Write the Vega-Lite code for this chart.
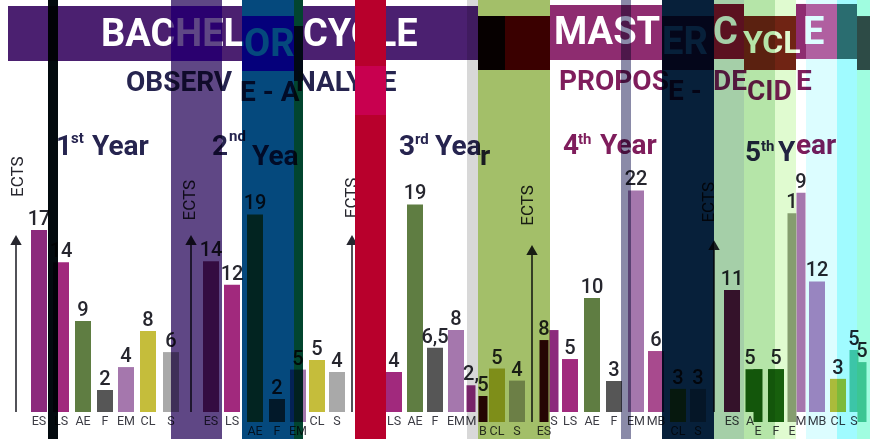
{
"$schema":"https://vega.github.io/schema/vega-lite/v6.json",
"autosize":{"type":"none"},
"width":870,"height":439,"padding":0,
"background":"white",
"config":{"view":{"stroke":null}},
"datasets":{
"blocks":[
{"slot":0.4,"to":8.55,"level":37.94,"bottom":32.8,"tone":"bachelor"},
{"slot":8.55,"to":11.1,"level":37.94,"bottom":32.8,"tone":"h2"},
{"slot":11.1,"to":12.1,"level":37.94,"bottom":32.8,"tone":"bachelor"},
{"slot":12.1,"to":14.7,"level":37.0,"bottom":31.87,"tone":"h3"},
{"slot":14.7,"to":15.15,"level":36.07,"bottom":30.93,"tone":"bachelor"},
{"slot":15.15,"to":23.9,"level":37.94,"bottom":32.9,"tone":"bachelor"},
{"slot":23.9,"to":25.25,"level":37.0,"bottom":31.96,"tone":"h6a"},
{"slot":25.25,"to":27.5,"level":37.0,"bottom":31.96,"tone":"h6b"},
{"slot":27.5,"to":33.1,"level":38.04,"bottom":32.9,"tone":"master"},
{"slot":33.1,"to":35.7,"level":37.0,"bottom":31.96,"tone":"master"},
{"slot":35.7,"to":37.2,"level":38.13,"bottom":32.99,"tone":"h9"},
{"slot":37.2,"to":39.8,"level":37.0,"bottom":31.96,"tone":"h10"},
{"slot":39.8,"to":40.3,"level":38.13,"bottom":32.99,"tone":"master"},
{"slot":40.3,"to":41.85,"level":38.13,"bottom":32.99,"tone":"h12"},
{"slot":41.85,"to":42.85,"level":38.13,"bottom":32.99,"tone":"h13"},
{"slot":42.85,"to":43.5,"level":37.0,"bottom":31.96,"tone":"h14"}
],
"bars":[
{"year":1,"tick":"ES","ects":"17","level":17.0,"slot":1.95,"shifted":false,"half":false,"tone":"ES"},
{"year":1,"tick":"LS","ects":"14","level":14.0,"slot":3.05,"shifted":false,"half":false,"tone":"LS"},
{"year":1,"tick":"AE","ects":"9","level":8.5,"slot":4.15,"shifted":false,"half":false,"tone":"AE"},
{"year":1,"tick":"F","ects":"2","level":2.06,"slot":5.25,"shifted":false,"half":false,"tone":"F"},
{"year":1,"tick":"EM","ects":"4","level":4.2,"slot":6.3,"shifted":false,"half":false,"tone":"EM"},
{"year":1,"tick":"CL","ects":"8","level":7.57,"slot":7.4,"shifted":false,"half":false,"tone":"CL"},
{"year":1,"tick":"S","ects":"6","level":5.6,"slot":8.55,"shifted":false,"half":false,"tone":"S"},
{"year":2,"tick":"ES","ects":"14","level":14.1,"slot":10.55,"shifted":false,"half":false,"tone":"ES"},
{"year":2,"tick":"LS","ects":"12","level":11.9,"slot":11.6,"shifted":false,"half":false,"tone":"LS"},
{"year":2,"tick":"AE","ects":"19","level":19.4,"slot":12.75,"shifted":true,"half":false,"tone":"AE"},
{"year":2,"tick":"F","ects":"2","level":2.15,"slot":13.85,"shifted":true,"half":false,"tone":"F"},
{"year":2,"tick":"EM","ects":"5","level":4.9,"slot":14.9,"shifted":true,"half":false,"tone":"EM"},
{"year":2,"tick":"CL","ects":"5","level":4.86,"slot":15.85,"shifted":false,"half":false,"tone":"CL"},
{"year":2,"tick":"S","ects":"4","level":3.74,"slot":16.85,"shifted":false,"half":false,"tone":"S"},
{"year":3,"tick":"ES","ects":"6","level":5.6,"slot":18.6,"shifted":false,"half":false,"tone":"ES"},
{"year":3,"tick":"LS","ects":"4","level":3.74,"slot":19.7,"shifted":false,"half":false,"tone":"LS"},
{"year":3,"tick":"AE","ects":"19","level":19.4,"slot":20.75,"shifted":false,"half":false,"tone":"AE"},
{"year":3,"tick":"F","ects":"6,5","level":6.0,"slot":21.75,"shifted":false,"half":false,"tone":"F"},
{"year":3,"tick":"EM","ects":"8","level":7.66,"slot":22.8,"shifted":false,"half":false,"tone":"EM"},
{"year":3,"tick":"M","ects":"2,","level":2.5,"slot":23.55,"shifted":false,"half":true,"tone":"ES"},
{"year":3,"tick":"B","ects":"5","level":2.43,"slot":24.15,"shifted":true,"half":true,"tone":"ES4"},
{"year":3,"tick":"CL","ects":"5","level":5.0,"slot":24.85,"shifted":true,"half":false,"tone":"CL"},
{"year":3,"tick":"S","ects":"4","level":3.87,"slot":25.85,"shifted":true,"half":false,"tone":"S"},
{"year":4,"tick":"S","ects":"","level":7.66,"slot":27.7,"shifted":false,"half":true,"tone":"ES"},
{"year":4,"tick":"ES","ects":"8","level":7.66,"slot":27.2,"shifted":true,"half":true,"tone":"ES4"},
{"year":4,"tick":"LS","ects":"5","level":4.95,"slot":28.5,"shifted":false,"half":false,"tone":"LS"},
{"year":4,"tick":"AE","ects":"10","level":10.65,"slot":29.6,"shifted":false,"half":false,"tone":"AE"},
{"year":4,"tick":"F","ects":"3","level":2.9,"slot":30.7,"shifted":false,"half":false,"tone":"F"},
{"year":4,"tick":"EM","ects":"22","level":20.7,"slot":31.8,"shifted":false,"half":false,"tone":"EM"},
{"year":4,"tick":"MB","ects":"6","level":5.7,"slot":32.8,"shifted":false,"half":false,"tone":"MB4"},
{"year":4,"tick":"CL","ects":"3","level":3.1,"slot":33.9,"shifted":true,"half":false,"tone":"CL"},
{"year":4,"tick":"S","ects":"3","level":3.1,"slot":34.9,"shifted":true,"half":false,"tone":"S"},
{"year":5,"tick":"ES","ects":"11","level":11.4,"slot":36.6,"shifted":false,"half":false,"tone":"ES5"},
{"year":5,"tick":"A","ects":"5","level":4.0,"slot":37.5,"shifted":false,"half":true,"tone":"AE5"},
{"year":5,"tick":"E","ects":"","level":4.95,"slot":37.9,"shifted":true,"half":true,"tone":"AE5"},
{"year":5,"tick":"F","ects":"5","level":4.95,"slot":38.8,"shifted":true,"half":false,"tone":"AE5"},
{"year":5,"tick":"E","ects":"1","level":19.5,"slot":39.6,"shifted":true,"half":true,"tone":"EM5"},
{"year":5,"tick":"M","ects":"9","level":20.5,"slot":40.05,"shifted":false,"half":true,"tone":"EM"},
{"year":5,"tick":"MB","ects":"12","level":12.2,"slot":40.85,"shifted":false,"half":false,"tone":"MB5"},
{"year":5,"tick":"CL","ects":"3","level":3.1,"slot":41.9,"shifted":false,"half":false,"tone":"CL"},
{"year":5,"tick":"S","ects":"5","level":5.8,"slot":42.7,"shifted":false,"half":true,"tone":"S5"},
{"year":5,"tick":"","ects":"5","level":5.6,"slot":43.1,"shifted":true,"half":true,"tone":"S5"}
],
"notes":[
{"kind":"head","label":"BACHEL","slot":5.05,"level":35.2,"tone":"white"},
{"kind":"head","label":"OR","slot":12.2,"level":34.3,"tone":"white"},
{"kind":"head","label":"CYCLE","slot":15.15,"level":35.2,"tone":"white"},
{"kind":"head","label":"MAST","slot":27.7,"level":35.4,"tone":"white"},
{"kind":"head","label":"ER","slot":33.1,"level":34.5,"tone":"white"},
{"kind":"head","label":"C","slot":35.65,"level":35.4,"tone":"white"},
{"kind":"narrow","label":"YCL","slot":37.15,"level":34.5,"tone":"white"},
{"kind":"head","label":"E","slot":40.15,"level":35.4,"tone":"white"},
{"kind":"sub","label":"OBSERV","slot":6.3,"level":30.75,"tone":"ink"},
{"kind":"sub","label":"E - A","slot":12.0,"level":29.8,"tone":"ink"},
{"kind":"sub","label":"NALYSE","slot":14.8,"level":30.75,"tone":"ink"},
{"kind":"sub","label":"PROPOS","slot":27.95,"level":30.8,"tone":"plum"},
{"kind":"sub","label":"E - ","slot":33.4,"level":29.9,"tone":"plum"},
{"kind":"sub","label":"DE","slot":35.65,"level":30.8,"tone":"plum"},
{"kind":"sub","label":"CID","slot":37.35,"level":29.9,"tone":"plum"},
{"kind":"sub","label":"E","slot":39.8,"level":30.8,"tone":"plum"},
{"kind":"year","label":"1","slot":2.8,"level":24.8,"tone":"ink"},
{"kind":"year","label":"Year","slot":4.6,"level":24.8,"tone":"ink"},
{"kind":"year","label":"2","slot":10.6,"level":24.8,"tone":"ink"},
{"kind":"year","label":"Yea","slot":12.6,"level":23.8,"tone":"ink"},
{"kind":"year","label":"3","slot":19.95,"level":24.8,"tone":"ink"},
{"kind":"year","label":"Yea","slot":21.75,"level":24.8,"tone":"ink"},
{"kind":"year","label":"r","slot":24.0,"level":23.8,"tone":"ink"},
{"kind":"year","label":"4","slot":28.15,"level":24.9,"tone":"plum"},
{"kind":"year","label":"Year","slot":30.0,"level":24.9,"tone":"plum"},
{"kind":"year","label":"5","slot":37.25,"level":24.2,"tone":"ink"},
{"kind":"year","label":"Y","slot":38.9,"level":24.2,"tone":"ink"},
{"kind":"year","label":"ear","slot":39.8,"level":24.9,"tone":"plum"},
{"kind":"sup","label":"st","slot":3.55,"level":25.6,"tone":"ink"},
{"kind":"sup","label":"nd","slot":11.45,"level":25.8,"tone":"ink"},
{"kind":"sup","label":"rd","slot":20.75,"level":25.5,"tone":"ink"},
{"kind":"sup","label":"th","slot":28.9,"level":25.5,"tone":"plum"},
{"kind":"sup","label":"th","slot":38.05,"level":24.9,"tone":"ink"},
{"kind":"ects","label":"ECTS","slot":0.9,"level":22.0,"tone":"dark"},
{"kind":"ects","label":"ECTS","slot":9.5,"level":19.8,"tone":"dark"},
{"kind":"ects","label":"ECTS","slot":17.6,"level":20.0,"tone":"dark"},
{"kind":"ects","label":"ECTS","slot":26.4,"level":19.3,"tone":"dark"},
{"kind":"ects","label":"ECTS","slot":35.45,"level":19.6,"tone":"dark"}
],
"arrows":[
{"slot":0.8,"level":16.07,"foot":0,"tone":"dark"},
{"slot":9.55,"level":16.07,"foot":0,"tone":"dark"},
{"slot":17.6,"level":16.07,"foot":0,"tone":"dark"},
{"slot":26.6,"level":15.14,"foot":-0.93,"tone":"dark"},
{"slot":35.7,"level":15.6,"foot":0,"tone":"dark"}
],
"stripes":[
{"slot":2.4,"to":2.9,"level":38.5,"bottom":-2.52,"tone":"s1"},
{"slot":8.55,"to":11.1,"level":38.5,"bottom":-2.52,"tone":"s2"},
{"slot":12.1,"to":14.7,"level":38.5,"bottom":-2.52,"tone":"s3"},
{"slot":14.7,"to":15.15,"level":38.5,"bottom":-2.52,"tone":"s4"},
{"slot":23.35,"to":23.9,"level":38.5,"bottom":-2.52,"tone":"s5"},
{"slot":23.9,"to":27.5,"level":38.5,"bottom":-2.52,"tone":"s6"},
{"slot":31.05,"to":31.55,"level":38.5,"bottom":-2.52,"tone":"s7"},
{"slot":33.1,"to":35.7,"level":38.5,"bottom":-2.52,"tone":"s8"},
{"slot":35.7,"to":37.2,"level":38.5,"bottom":-2.52,"tone":"s9"},
{"slot":37.2,"to":38.75,"level":38.5,"bottom":-2.52,"tone":"s10"},
{"slot":38.75,"to":39.8,"level":38.5,"bottom":-2.52,"tone":"s11"},
{"slot":40.3,"to":41.85,"level":38.5,"bottom":-2.52,"tone":"s12"},
{"slot":41.85,"to":42.85,"level":38.5,"bottom":-2.52,"tone":"s13"},
{"slot":42.85,"to":43.5,"level":38.5,"bottom":-2.52,"tone":"s14"}
],
"solid":[
{"slot":17.75,"to":19.3,"level":38.5,"bottom":-2.52,"tone":"red"},
{"slot":17.75,"to":19.3,"level":32.34,"bottom":27.76,"tone":"pink"}
]
},
"encoding":{
"x":{"field":"slot","type":"quantitative","scale":{"domain":[0,43.5],"nice":false,"zero":false,"padding":0},"axis":null},
"y":{"field":"level","type":"quantitative","scale":{"domain":[-2.52,38.5],"nice":false,"zero":false,"padding":0},"axis":null,"stack":null},
"color":{"field":"tone","type":"nominal","legend":null,"scale":{
"domain":["ES","LS","AE","F","EM","CL","S","MB4","MB5","ES4","ES5","AE5","EM5","S5","bachelor","master","white","ink","plum","dark","s1","s2","s3","s4","s5","s6","s7","s8","s9","s10","s11","s12","s13","s14","red","pink","h2","h3","h6a","h6b","h9","h10","h12","h13","h14"],
"range":["#8c2a7c","#a1297d","#5f7d42","#565656","#a577ad","#c5bd3b","#a9a9a9","#a84a8e","#b086c0","#3a0606","#50163f","#1a6010","#98a088","#60c8a8","#4b2070","#8e2c70","#ffffff","#26244f","#7f1d5c","#26262e","#030a0e","#5f4785","#05497d","#02452f","#d8d8d8","#a3bf69","#8a8aa8","#07203a","#a5cfa8","#b5e5a8","#e0fbd0","#dcfdff","#a0fbff","#a0fde0","#b8002c","#c8004f","#7000d4","#ff00fa","#080000","#5b0000","#8c1430","#802418","#cc60a0","#436f70","#484b50"]}}
},
"layer":[
{"data":{"name":"blocks"},"mark":{"type":"rect"},"encoding":{"x2":{"field":"to"},"y2":{"field":"bottom"}}},
{"data":{"name":"bars"},"transform":[{"filter":"!datum.half && !datum.shifted"}],"mark":{"type":"bar","size":16,"orient":"vertical"},"encoding":{"y2":{"datum":0}}},
{"data":{"name":"bars"},"transform":[{"filter":"!datum.half && datum.shifted"}],"mark":{"type":"bar","size":16,"orient":"vertical","yOffset":10,"y2Offset":10},"encoding":{"y2":{"datum":0}}},
{"data":{"name":"bars"},"transform":[{"filter":"datum.half && !datum.shifted"}],"mark":{"type":"bar","size":9,"orient":"vertical"},"encoding":{"y2":{"datum":0}}},
{"data":{"name":"bars"},"transform":[{"filter":"datum.half && datum.shifted"}],"mark":{"type":"bar","size":9,"orient":"vertical","yOffset":10,"y2Offset":10},"encoding":{"y2":{"datum":0}}},
{"data":{"name":"bars"},"transform":[{"filter":"!datum.shifted"}],"mark":{"type":"text","font":"Roboto","fontWeight":500,"fontSize":20,"baseline":"bottom","dy":-1},"encoding":{"text":{"field":"ects"},"color":{"value":"#26262e"}}},
{"data":{"name":"bars"},"transform":[{"filter":"datum.shifted"}],"mark":{"type":"text","font":"Roboto","fontWeight":500,"fontSize":20,"baseline":"bottom","dy":9},"encoding":{"text":{"field":"ects"},"color":{"value":"#26262e"}}},
{"data":{"name":"bars"},"transform":[{"filter":"!datum.shifted"}],"mark":{"type":"text","font":"Roboto","fontSize":12.5,"baseline":"middle"},"encoding":{"y":{"datum":-0.85},"text":{"field":"tick"},"color":{"value":"#3c3c44"}}},
{"data":{"name":"bars"},"transform":[{"filter":"datum.shifted"}],"mark":{"type":"text","font":"Roboto","fontSize":12.5,"baseline":"middle","dy":10},"encoding":{"y":{"datum":-0.85},"text":{"field":"tick"},"color":{"value":"#3c3c44"}}},
{"data":{"name":"notes"},"transform":[{"filter":"datum.kind==='head'"}],"mark":{"type":"text","font":"Roboto","fontWeight":"bold","fontSize":38,"align":"left","baseline":"middle"},"encoding":{"text":{"field":"label"}}},
{"data":{"name":"notes"},"transform":[{"filter":"datum.kind==='narrow'"}],"mark":{"type":"text","font":"Roboto","fontWeight":"bold","fontSize":32,"align":"left","baseline":"middle"},"encoding":{"text":{"field":"label"}}},
{"data":{"name":"notes"},"transform":[{"filter":"datum.kind==='sub'"}],"mark":{"type":"text","font":"Roboto","fontWeight":"bold","fontSize":28,"align":"left","baseline":"middle"},"encoding":{"text":{"field":"label"}}},
{"data":{"name":"notes"},"transform":[{"filter":"datum.kind==='year'"}],"mark":{"type":"text","font":"Roboto","fontWeight":"bold","fontSize":28,"align":"left","baseline":"middle"},"encoding":{"text":{"field":"label"}}},
{"data":{"name":"notes"},"transform":[{"filter":"datum.kind==='sup'"}],"mark":{"type":"text","font":"Roboto","fontWeight":"bold","fontSize":15,"align":"left","baseline":"middle"},"encoding":{"text":{"field":"label"}}},
{"data":{"name":"notes"},"transform":[{"filter":"datum.kind==='ects'"}],"mark":{"type":"text","font":"Roboto","fontSize":17,"align":"center","baseline":"middle","angle":270},"encoding":{"text":{"field":"label"}}},
{"data":{"name":"arrows"},"mark":{"type":"rule","strokeWidth":1.6},"encoding":{"y2":{"field":"foot"}}},
{"data":{"name":"arrows"},"mark":{"type":"point","shape":"triangle-up","filled":true,"opacity":1,"size":130}},
{"data":{"name":"stripes"},"mark":{"type":"rect","blend":"multiply"},"encoding":{"x2":{"field":"to"},"y2":{"field":"bottom"}}},
{"data":{"name":"solid"},"mark":{"type":"rect"},"encoding":{"x2":{"field":"to"},"y2":{"field":"bottom"}}}
]
}
